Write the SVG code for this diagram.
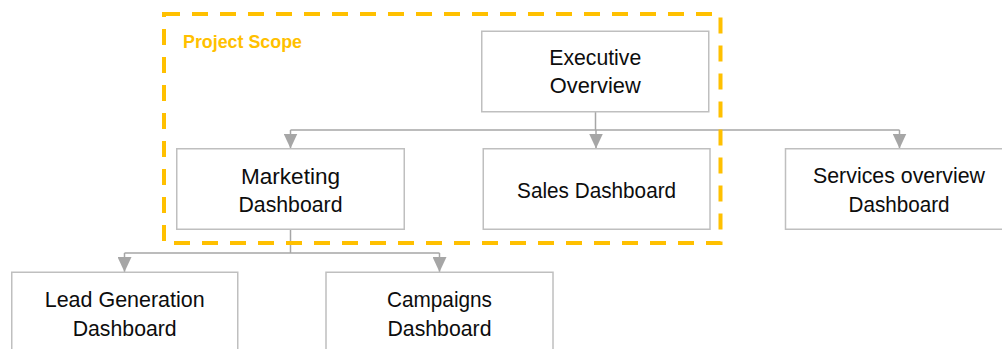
<svg xmlns="http://www.w3.org/2000/svg" width="1002" height="349" viewBox="0 0 1002 349">
  <style>
    .box { fill: #FFFFFF; stroke: #BFBFBF; stroke-width: 1.5; }
    .label { font-family: "Liberation Sans", Arial, sans-serif; font-size: 21.5px; fill: #0D0D0D; text-anchor: middle; }
    .wire { fill: none; stroke: #A6A6A6; stroke-width: 1.5; }
    .scope { fill: none; stroke: #FFC000; stroke-width: 4; stroke-dasharray: 16 12; }
    .scope-title { font-family: "Liberation Sans", Arial, sans-serif; font-size: 17.5px; font-weight: bold; fill: #FFC000; }
  </style>
  <defs>
    <marker id="arrow" viewBox="0 0 15 14" refX="15" refY="7" markerWidth="15" markerHeight="14" markerUnits="userSpaceOnUse" orient="auto">
      <path d="M0,0 L15,7 L0,14 Z" fill="#A6A6A6"/>
    </marker>
  </defs>

  <rect width="1002" height="349" fill="#FFFFFF"/>

  <!-- connectors -->
  <g id="connectors">
    <path class="wire" d="M595.5,112 V130"/>
    <path class="wire" d="M290.5,130 H899.5"/>
    <path class="wire" d="M290.5,130 V148.5" marker-end="url(#arrow)"/>
    <path class="wire" d="M596,130 V148.5" marker-end="url(#arrow)"/>
    <path class="wire" d="M899.5,130 V148.5" marker-end="url(#arrow)"/>
    <path class="wire" d="M290.5,229.5 V253"/>
    <path class="wire" d="M124.5,253 H439.5"/>
    <path class="wire" d="M124.5,253 V272" marker-end="url(#arrow)"/>
    <path class="wire" d="M439.5,253 V272" marker-end="url(#arrow)"/>
  </g>

  <!-- nodes -->
  <g id="executive-overview">
    <rect class="box" x="481.75" y="31.25" width="227" height="80.5"/>
    <text class="label" x="595.25" y="65" textLength="92" lengthAdjust="spacingAndGlyphs">Executive</text>
    <text class="label" x="595.25" y="92.7" textLength="91" lengthAdjust="spacingAndGlyphs">Overview</text>
  </g>

  <g id="marketing-dashboard">
    <rect class="box" x="176.75" y="148.75" width="227.5" height="80.5"/>
    <text class="label" x="290.5" y="184.3" textLength="99" lengthAdjust="spacingAndGlyphs">Marketing</text>
    <text class="label" x="290.5" y="211.7" textLength="104" lengthAdjust="spacingAndGlyphs">Dashboard</text>
  </g>

  <g id="sales-dashboard">
    <rect class="box" x="483.25" y="148.75" width="226.75" height="80.5"/>
    <text class="label" x="596.6" y="197.7" textLength="159" lengthAdjust="spacingAndGlyphs">Sales Dashboard</text>
  </g>

  <g id="services-overview-dashboard">
    <rect class="box" x="785.5" y="148.75" width="227" height="80.5"/>
    <text class="label" x="899" y="183.3" textLength="172" lengthAdjust="spacingAndGlyphs">Services overview</text>
    <text class="label" x="899" y="211.7" textLength="101" lengthAdjust="spacingAndGlyphs">Dashboard</text>
  </g>

  <g id="lead-generation-dashboard">
    <rect class="box" x="11.75" y="272.25" width="226" height="80.5"/>
    <text class="label" x="124.7" y="306.7" textLength="160" lengthAdjust="spacingAndGlyphs">Lead Generation</text>
    <text class="label" x="124.7" y="335.7" textLength="104" lengthAdjust="spacingAndGlyphs">Dashboard</text>
  </g>

  <g id="campaigns-dashboard">
    <rect class="box" x="326" y="272.25" width="227" height="80.5"/>
    <text class="label" x="439.5" y="306.7" textLength="105" lengthAdjust="spacingAndGlyphs">Campaigns</text>
    <text class="label" x="439.5" y="335.7" textLength="104" lengthAdjust="spacingAndGlyphs">Dashboard</text>
  </g>

  <!-- project scope boundary -->
  <g id="project-scope">
    <rect class="scope" x="164" y="14" width="556.5" height="229"/>
    <text class="scope-title" x="183" y="47.7" textLength="119" lengthAdjust="spacingAndGlyphs">Project Scope</text>
  </g>
</svg>
